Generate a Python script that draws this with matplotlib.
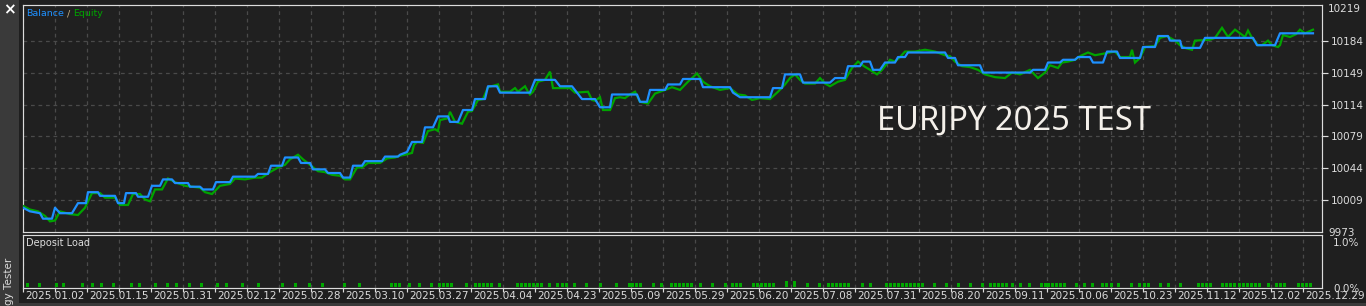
import matplotlib
matplotlib.use("Agg")
import matplotlib.pyplot as plt
from matplotlib.transforms import blended_transform_factory, offset_copy
from matplotlib.patches import Rectangle

# ---------------- data ----------------
date_labels = ['2025.01.02', '2025.01.15', '2025.01.31', '2025.02.12', '2025.02.28',
               '2025.03.10', '2025.03.27', '2025.04.04', '2025.04.23', '2025.05.09',
               '2025.05.29', '2025.06.20', '2025.07.08', '2025.07.31', '2025.08.20',
               '2025.09.11', '2025.10.06', '2025.10.23', '2025.11.12', '2025.12.02',
               '2025.12.29']
label_pos = [i * 64 for i in range(len(date_labels))]   # time index of each date label

balance_t = [0, 7, 17, 20, 29, 32, 37, 49, 55, 63, 65, 75, 77, 92, 95, 101, 103, 113, 115, 125,
             129, 137, 140, 149, 152, 165, 167, 177, 180, 190, 193, 207, 210, 232, 235, 245,
             248, 259, 262, 275, 278, 287, 290, 302, 305, 317, 320, 327, 330, 339, 342, 359,
             362, 375, 377, 384, 389, 399, 402, 410, 415, 425, 427, 435, 440, 449, 452, 462,
             465, 474, 477, 507, 512, 532, 537, 549, 554, 559, 572, 577, 587, 589, 614, 617,
             624, 627, 642, 645, 657, 660, 677, 680, 707, 710, 717, 747, 750, 759, 762, 777,
             780, 807, 812, 822, 825, 837, 840, 847, 850, 857, 862, 872, 875, 882, 885, 922,
             925, 932, 935, 957, 960, 1007, 1010, 1022, 1025, 1037, 1040, 1052, 1055, 1067,
             1070, 1080, 1084, 1094, 1097, 1117, 1120, 1132, 1135, 1145, 1147, 1157, 1159,
             1177, 1182, 1230, 1234, 1252, 1257, 1290]
balance_v = [10001, 9997, 9995, 9989, 9989, 10001, 9995, 9995, 10006, 10006, 10018, 10018,
             10014, 10014, 10006, 10006, 10017, 10017, 10013, 10013, 10025, 10025, 10032,
             10032, 10028, 10028, 10024, 10024, 10021, 10021, 10029, 10029, 10035, 10035,
             10038, 10038, 10047, 10047, 10056, 10056, 10050, 10050, 10043, 10043, 10039,
             10039, 10034, 10034, 10047, 10047, 10052, 10052, 10057, 10057, 10059, 10062,
             10073, 10073, 10089, 10089, 10101, 10101, 10095, 10095, 10108, 10108, 10120,
             10120, 10134, 10134, 10127, 10127, 10141, 10141, 10134, 10134, 10127, 10120,
             10120, 10111, 10111, 10125, 10125, 10117, 10117, 10130, 10130, 10136, 10136,
             10142, 10142, 10133, 10133, 10127, 10122, 10122, 10132, 10132, 10147, 10147,
             10138, 10138, 10143, 10143, 10156, 10156, 10161, 10161, 10152, 10152, 10160,
             10160, 10166, 10166, 10171, 10171, 10165, 10165, 10157, 10157, 10149, 10149,
             10152, 10152, 10160, 10160, 10163, 10163, 10166, 10166, 10160, 10160, 10172,
             10172, 10165, 10165, 10177, 10177, 10189, 10189, 10184, 10184, 10176, 10176,
             10187, 10187, 10179, 10179, 10192, 10192]

equity_t = [0, 7, 15, 22, 27, 32, 37, 47, 55, 62, 69, 77, 82, 92, 97, 105, 110, 117, 122, 127,
            132, 139, 145, 152, 162, 169, 177, 182, 189, 197, 207, 212, 222, 232, 239, 247,
            255, 262, 267, 275, 280, 287, 295, 302, 309, 317, 322, 327, 334, 339, 345, 357,
            364, 372, 377, 382, 389, 391, 394, 400, 405, 412, 415, 417, 425, 427, 432, 439,
            445, 449, 455, 460, 465, 475, 477, 487, 492, 495, 502, 505, 507, 510, 515, 522,
            527, 530, 547, 552, 565, 569, 572, 577, 580, 587, 592, 597, 602, 607, 612, 617,
            625, 632, 642, 649, 657, 665, 674, 680, 687, 697, 707, 715, 722, 729, 737, 747,
            755, 762, 767, 772, 777, 782, 792, 797, 802, 807, 815, 822, 829, 835, 841, 847,
            854, 859, 867, 872, 877, 882, 892, 902, 912, 922, 927, 932, 939, 947, 955, 962,
            972, 982, 989, 997, 1007, 1015, 1022, 1027, 1035, 1039, 1045, 1052, 1057, 1065,
            1072, 1077, 1092, 1097, 1107, 1109, 1112, 1117, 1122, 1132, 1137, 1144, 1152,
            1157, 1162, 1169, 1172, 1187, 1192, 1199, 1205, 1212, 1217, 1222, 1225, 1229,
            1235, 1239, 1245, 1249, 1255, 1257, 1260, 1267, 1273, 1277, 1282, 1290]
equity_v = [10003, 9999, 9997, 9992, 9986, 9987, 9997, 9994, 9993, 10001, 10017, 10017, 10012,
            10012, 10004, 10004, 10016, 10016, 10010, 10008, 10021, 10021, 10033, 10029,
            10025, 10024, 10023, 10018, 10016, 10025, 10027, 10033, 10032, 10034, 10034,
            10040, 10045, 10048, 10054, 10059, 10054, 10048, 10041, 10040, 10037, 10036,
            10032, 10032, 10045, 10045, 10050, 10050, 10055, 10056, 10058, 10059, 10061,
            10070, 10073, 10072, 10085, 10087, 10085, 10097, 10099, 10106, 10095, 10093,
            10106, 10107, 10119, 10120, 10133, 10136, 10128, 10128, 10132, 10128, 10134,
            10128, 10125, 10128, 10139, 10141, 10150, 10132, 10132, 10127, 10128, 10119,
            10118, 10122, 10108, 10108, 10121, 10122, 10121, 10125, 10128, 10117, 10115,
            10126, 10130, 10133, 10130, 10139, 10148, 10139, 10134, 10130, 10132, 10125,
            10124, 10119, 10121, 10120, 10128, 10136, 10143, 10147, 10141, 10137, 10137,
            10143, 10137, 10134, 10139, 10141, 10154, 10161, 10156, 10152, 10147, 10152,
            10163, 10161, 10166, 10172, 10172, 10174, 10172, 10168, 10167, 10161, 10156,
            10155, 10152, 10147, 10144, 10143, 10149, 10147, 10152, 10143, 10149, 10157,
            10154, 10160, 10161, 10163, 10167, 10171, 10168, 10169, 10172, 10166, 10166,
            10174, 10160, 10165, 10177, 10178, 10187, 10189, 10184, 10179, 10176, 10174,
            10184, 10185, 10187, 10198, 10188, 10196, 10192, 10188, 10195, 10187, 10179,
            10179, 10184, 10179, 10177, 10179, 10190, 10188, 10191, 10196, 10192, 10196]

load_t = [4, 16, 34, 41, 59, 70, 79, 91, 108, 116, 133, 145, 154, 167, 179, 195, 204, 220,
          235, 260, 273, 287, 300, 322, 337, 369, 373, 377, 387, 397, 409, 417, 421, 425, 429,
          444, 453, 457, 461, 465, 469, 477, 494, 498, 502, 506, 510, 515, 519, 527, 535, 540,
          544, 552, 564, 578, 594, 607, 610, 614, 618, 631, 639, 649, 653, 657, 661, 665, 669,
          678, 690, 703, 710, 714, 718, 731, 735, 739, 743, 747, 751, 764, 772, 785, 797, 806,
          810, 814, 818, 822, 826, 840, 848, 864, 868, 872, 876, 880, 884, 888, 892, 896, 900,
          912, 924, 936, 948, 960, 968, 972, 976, 980, 984, 990, 998, 1006, 1018, 1022, 1026,
          1030, 1034, 1038, 1042, 1054, 1062, 1070, 1080, 1084, 1089, 1096, 1109, 1117, 1122,
          1126, 1138, 1146, 1158, 1176, 1180, 1184, 1188, 1200, 1204, 1208, 1212, 1217, 1221,
          1225, 1229, 1233, 1237, 1246, 1254, 1258, 1262, 1276, 1280, 1284, 1288]
load_v = [0.14 if t in (764, 772) else 0.10 for t in load_t]

main_ticks = [10009, 10044, 10079, 10114, 10149, 10184]

# ---------------- style ----------------
W, H = 1366, 306
BG = '#1f1f1f'
FRAME = '#dcdcdc'
GRID = '#4a4a4a'
TXT = '#dcdcdc'
BLUE = '#1e90ff'
GREEN = '#00a400'

fig = plt.figure(figsize=(W / 100, H / 100), dpi=100, facecolor=BG)

def fx(px):
    return px / W

def fy(py):
    return 1 - py / H

L, R = 23, 1322
ax = fig.add_axes([fx(L), fy(232.0), fx(R - L), (232.0 - 5) / H])
ax2 = fig.add_axes([fx(L), fy(288.3), fx(R - L), (288.3 - 235.0) / H])

for a in (ax, ax2):
    a.set_facecolor('#202020')
    for s in a.spines.values():
        s.set_color(FRAME)
        s.set_linewidth(0.85)
    a.set_xlim(0, R - L)
    a.set_xticks([k * 32 for k in range(41)])
    a.grid(True, color=GRID, linestyle=(0, (3, 3)), linewidth=0.9)
    a.tick_params(axis='x', colors=FRAME, length=3, width=0.85, labelbottom=False)
    a.set_axisbelow(True)

ax.tick_params(axis='x', length=0)

# main panel
ax.set_ylim(9974.4, 10223)
ax.yaxis.tick_right()
ax.set_yticks(main_ticks)
ax.set_yticklabels([str(v) for v in main_ticks])
ax.tick_params(axis='y', colors=FRAME, length=4, width=0.85, pad=2, labelsize=7.5,
               labelcolor=TXT)
ax.plot(equity_t, equity_v, color=GREEN, lw=1.6, solid_joinstyle='miter', zorder=3)
ax.plot(balance_t, balance_v, color=BLUE, lw=1.6, zorder=4)

ax.text(1.0, 1.0, '10219', transform=offset_copy(ax.transAxes, fig, x=6, y=1, units='dots'),
        ha='left', va='top', color=TXT, fontsize=7.5)
ax.text(1.0, 0.0, '9973', transform=offset_copy(ax.transAxes, fig, x=6, y=-1, units='dots'),
        ha='left', va='center', color=TXT, fontsize=7.5)

# legend text: "Balance / Equity" with per-word colours
fig.canvas.draw()
rend = fig.canvas.get_renderer()
x_cursor = fx(26)
y_leg = fy(14)
for word, col in (('Balance', BLUE), (' / ', '#c8b080'), ('Equity', GREEN)):
    t = fig.text(x_cursor, y_leg, word, color=col, fontsize=6.8, va='center', ha='left')
    bb = t.get_window_extent(renderer=rend)
    x_cursor += bb.width / W

ax.text((877 - L) / 1299, (232.0 - 121) / 227.0, 'EURJPY 2025 TEST', transform=ax.transAxes,
        color='#f4f0ea', fontsize=23.5, fontfamily='Noto Sans', ha='left', va='center')

# deposit load panel
ax2.set_ylim(0, 1.149)
ax2.yaxis.tick_right()
ax2.set_yticks([0.0, 1.0])
ax2.set_yticklabels(['0.0%', '1.0%'])
ax2.tick_params(axis='y', length=0, pad=8, labelsize=7.5, labelcolor=TXT)
ax2.grid(axis='y', visible=False)
ax2.bar(load_t, load_v, width=3, bottom=0.02, color='#00a800', align='center', zorder=3)
ax2.text(3 / 1299, 1 - 8 / 53, 'Deposit Load', transform=ax2.transAxes, color=TXT,
         fontsize=7, va='center', ha='left')

trans = offset_copy(blended_transform_factory(ax2.transData, ax2.transAxes), fig,
                    x=2, y=-3, units='dots')
for t, lab in zip(label_pos, date_labels):
    ax2.text(t, 0, lab, transform=trans, ha='left', va='top', color=TXT, fontsize=7.5)

# window chrome
fig.patches.append(Rectangle((0, 0), fx(19), 1, transform=fig.transFigure,
                             facecolor='#3a3a3a', edgecolor='none', zorder=-1))
fig.patches.append(Rectangle((fx(19), 0), 1, 3 / H, transform=fig.transFigure,
                             facecolor='#3a3a3a', edgecolor='none', zorder=-1))
fig.text(fx(9.5), fy(10), '\u00d7', color='white', fontsize=11, ha='center', va='center',
         fontweight='bold')
fig.text(fx(9), fy(258), 'Strategy Tester', color=TXT, fontsize=7.5, rotation=90,
         ha='center', va='top')

fig.savefig('out.png', dpi=100, facecolor=BG)
